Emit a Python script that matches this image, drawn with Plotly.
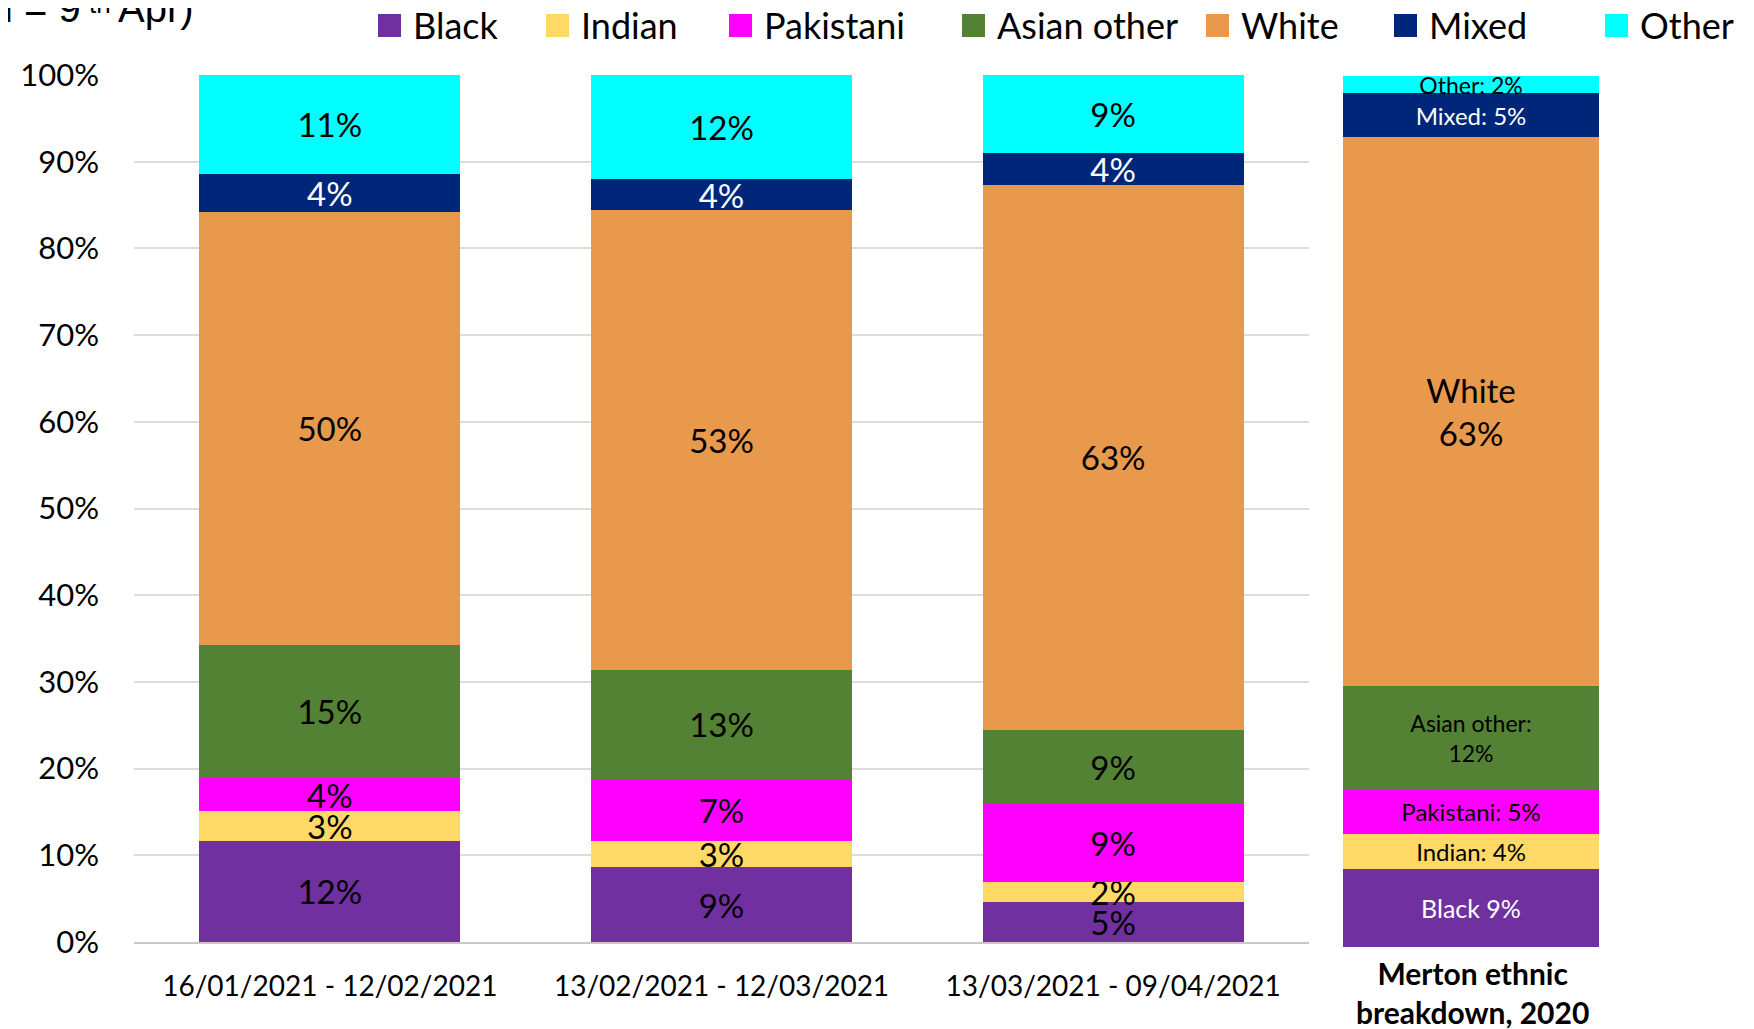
import plotly.graph_objects as go

# ---------------- data ----------------
periods = ["16/01/2021 - 12/02/2021", "13/02/2021 - 12/03/2021", "13/03/2021 - 09/04/2021"]
groups = ["Black", "Indian", "Pakistani", "Asian other", "White", "Mixed", "Other"]

black = [11.7, 8.6, 4.6]
indian = [3.4, 3.1, 2.3]
pakistani = [3.8, 7.1, 9.0]
asian_other = [15.4, 12.6, 8.6]
white = [49.9, 53.0, 62.8]
mixed = [4.4, 3.6, 3.7]
other = [11.4, 12.0, 9.0]
series = [black, indian, pakistani, asian_other, white, mixed, other]

merton_title = "Merton ethnic<br>breakdown, 2020"
merton_values = [9, 4, 5, 12, 63, 5, 2]
merton_labels = ["Black 9%", "Indian: 4%", "Pakistani: 5%", "Asian other:<br>12%",
                 "White<br>63%", "Mixed: 5%", "Other: 2%"]

y_ticks = [0, 10, 20, 30, 40, 50, 60, 70, 80, 90, 100]
y_tick_text = [f"{v}%" for v in y_ticks]
title_parts = ["l = 9", "th", "Apr)"]

# ---------------- styles ----------------
colors = ["#7030A0", "#FFD966", "#FF00FF", "#548235", "#E8994B", "#00267A", "#00FFFF"]
label_colors = ["black", "black", "black", "black", "black", "white", "black"]
merton_label_colors = ["white", "black", "black", "black", "black", "white", "black"]
merton_label_sizes = [25, 24, 24, 23, 33, 24, 23]
FONT = "Lato, 'Open Sans', sans-serif"
TFONT = "Liberation Sans, Arial, sans-serif"

# the page places the figure 8px in from the top-left corner
OFF = 8
# target geometry in screenshot pixels: plotting region x 134..1600, y 75..947
PL, PR, PT, PB = 134, 1600, 75, 947
PW, PH = PR - PL, PB - PT
FIG_W, FIG_H = 1754 - OFF, 1029 - OFF


def px_x(px):
    return (px - PL) / PW


def px_y(py):
    return (PB - py) / PH


fig = go.Figure()

for name, vals, col, lc in zip(groups, series, colors, label_colors):
    fig.add_trace(go.Bar(
        name=name, x=periods, y=vals,
        marker=dict(color=col, line=dict(width=0)),
        texttemplate="%{y:.0f}%", textposition="inside", insidetextanchor="middle",
        constraintext="none", textangle=0,
        insidetextfont=dict(family=FONT, size=33, color=lc),
        showlegend=False, xaxis="x", yaxis="y",
    ))

for name, v, lab, col, lc, ls in zip(groups, merton_values, merton_labels, colors,
                                     merton_label_colors, merton_label_sizes):
    fig.add_trace(go.Bar(
        name=name, x=[0], y=[v], width=[1], text=[lab],
        marker=dict(color=col, line=dict(width=0)),
        textposition="inside", insidetextanchor="middle", constraintext="none", textangle=0,
        insidetextfont=dict(family=FONT, size=ls, color=lc),
        showlegend=False, xaxis="x2", yaxis="y2",
    ))

# custom legend (squares + labels)
legend_sq_x = [378, 546, 729, 962, 1206, 1394, 1605]
shapes = []
annotations = []
for name, col, sx in zip(groups, colors, legend_sq_x):
    shapes.append(dict(type="rect", xref="paper", yref="paper",
                       x0=px_x(sx), x1=px_x(sx + 23), y0=px_y(37), y1=px_y(14),
                       fillcolor=col, line=dict(width=0)))
    annotations.append(dict(text=name, xref="paper", yref="paper",
                            x=px_x(sx + 33), y=px_y(25), xanchor="left", yanchor="middle",
                            showarrow=False, font=dict(family=FONT, size=36, color="black")))

annotations.append(dict(text=merton_title, xref="paper", yref="paper",
                        x=px_x(1472), y=px_y(992), xanchor="center", yanchor="middle",
                        showarrow=False, font=dict(family=FONT, size=30, color="black",
                                                   weight="bold")))
# cropped title fragment at the very top-left (cut by the picture edge)
for txt, x_px, y_px, size in zip(title_parts, [3, 88, 117], [31, 20, 31], [40, 26, 40]):
    annotations.append(dict(text=txt, xref="paper", yref="paper",
                            x=px_x(x_px), y=px_y(y_px), xanchor="left", yanchor="bottom",
                            showarrow=False, borderpad=0,
                            font=dict(family=TFONT, size=size, color="black")))

fig.update_layout(
    width=FIG_W, height=FIG_H,
    margin=dict(l=PL - OFF, r=FIG_W - (PR - OFF), t=PT - OFF, b=FIG_H - (PB - OFF), pad=0),
    barmode="stack", bargap=0.3337,
    plot_bgcolor="white", paper_bgcolor="white",
    font=dict(family=FONT, color="black"),
    showlegend=False,
    shapes=shapes, annotations=annotations,
    xaxis=dict(domain=[0, px_x(1309)], type="category", showgrid=False,
               showline=True, linecolor="#C8C8C8", linewidth=2,
               tickfont=dict(family=FONT, size=28, color="black"),
               ticks="", ticklabelstandoff=18, fixedrange=True),
    yaxis=dict(domain=[px_y(942), 1], range=[0, 100], tickvals=y_ticks, ticktext=y_tick_text,
               showgrid=True, gridcolor="#DCDCDC", gridwidth=1.5, zeroline=False,
               showline=False, ticks="", ticklabelstandoff=34,
               tickfont=dict(family=FONT, size=31, color="black"), fixedrange=True),
    xaxis2=dict(domain=[px_x(1343), px_x(1599)], anchor="y2", range=[-0.5, 0.5],
                visible=False, fixedrange=True),
    yaxis2=dict(domain=[0, px_y(76)], anchor="x2", range=[0, 100], visible=False,
                fixedrange=True),
)

fig.write_html("out.html")
